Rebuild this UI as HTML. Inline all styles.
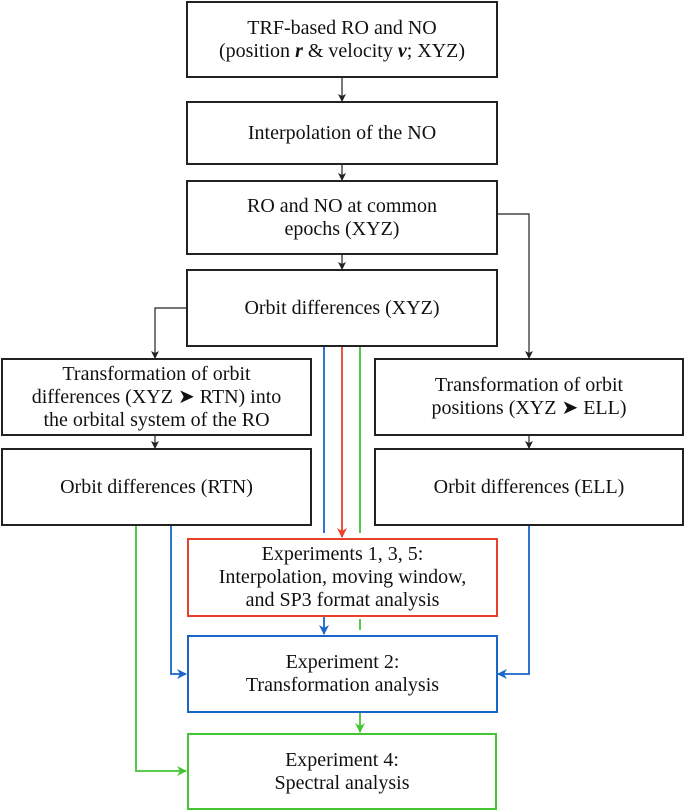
<!DOCTYPE html>
<html><head><meta charset="utf-8"><style>
body{margin:0;width:685px;height:810px;background:#fff;position:relative;overflow:hidden;font-family:"Liberation Serif",serif;}
.b{position:absolute;box-sizing:border-box;border:2px solid #222;display:flex;align-items:center;justify-content:center;text-align:center;font-size:20px;line-height:23px;color:#111;background:#fff;}
.b>div{display:block;}
svg{position:absolute;left:0;top:0;}
</style></head><body>
<svg width="685" height="810">
<defs>
<marker id="k" markerWidth="8" markerHeight="8" refX="7" refY="4" orient="auto" markerUnits="userSpaceOnUse"><path d="M0,0 L8,4 L0,8 L2,4z" fill="#222"/></marker>
<marker id="r" markerWidth="10" markerHeight="10" refX="9" refY="5" orient="auto" markerUnits="userSpaceOnUse"><path d="M0,0 L10,5 L0,10 L3,5z" fill="#e8402a"/></marker>
<marker id="bl" markerWidth="10" markerHeight="10" refX="9" refY="5" orient="auto" markerUnits="userSpaceOnUse"><path d="M0,0 L10,5 L0,10 L3,5z" fill="#1a66c8"/></marker>
<marker id="g" markerWidth="10" markerHeight="10" refX="9" refY="5" orient="auto" markerUnits="userSpaceOnUse"><path d="M0,0 L10,5 L0,10 L3,5z" fill="#44c534"/></marker>
</defs>
<g stroke="#222" stroke-width="1.2" fill="none">
<line x1="342" y1="77" x2="342" y2="101" marker-end="url(#k)"/>
<line x1="342" y1="164" x2="342" y2="180" marker-end="url(#k)"/>
<line x1="342" y1="254" x2="342" y2="269" marker-end="url(#k)"/>
<polyline points="187,308 155,308 155,358" marker-end="url(#k)"/>
<polyline points="497,214 529,214 529,358" marker-end="url(#k)"/>
<line x1="155" y1="435" x2="155" y2="448" marker-end="url(#k)"/>
<line x1="529" y1="435" x2="529" y2="448" marker-end="url(#k)"/>
</g>
<g stroke-width="1.8" fill="none">
<line x1="324" y1="346" x2="324" y2="533" stroke="#1a66c8"/>
<line x1="342" y1="346" x2="342" y2="537" stroke="#e8402a" marker-end="url(#r)"/>
<line x1="360" y1="346" x2="360" y2="533" stroke="#44c534"/>
<line x1="324" y1="616" x2="324" y2="634" stroke="#1a66c8" marker-end="url(#bl)"/>
<line x1="360" y1="619" x2="360" y2="630" stroke="#44c534"/>
<line x1="360" y1="712" x2="360" y2="732" stroke="#44c534" marker-end="url(#g)"/>
<polyline points="171,525 171,674 186,674" stroke="#1a66c8" marker-end="url(#bl)"/>
<polyline points="529,525 529,674 498,674" stroke="#1a66c8" marker-end="url(#bl)"/>
<polyline points="136,525 136,771 186,771" stroke="#44c534" marker-end="url(#g)"/>
</g>
</svg>
<div class="b" style="left:186px;top:1px;width:312px;height:77px"><div>TRF-based RO and NO<br>(position <b><i>r</i></b> &amp; velocity <b><i>v</i></b>; XYZ)</div></div>
<div class="b" style="left:186px;top:101px;width:312px;height:64px"><div>Interpolation of the NO</div></div>
<div class="b" style="left:186px;top:180px;width:312px;height:75px"><div>RO and NO at common<br>epochs (XYZ)</div></div>
<div class="b" style="left:186px;top:269px;width:312px;height:78px"><div>Orbit differences (XYZ)</div></div>
<div class="b" style="left:1px;top:358px;width:311px;height:78px"><div>Transformation of orbit<br>differences (XYZ ➤ RTN) into<br>the orbital system of the RO</div></div>
<div class="b" style="left:374px;top:358px;width:310px;height:78px"><div>Transformation of orbit<br>positions (XYZ ➤ ELL)</div></div>
<div class="b" style="left:1px;top:448px;width:311px;height:78px"><div>Orbit differences (RTN)</div></div>
<div class="b" style="left:374px;top:448px;width:310px;height:78px"><div>Orbit differences (ELL)</div></div>
<div class="b" style="left:187px;top:538px;width:311px;height:79px;border-color:#e8402a"><div>Experiments 1, 3, 5:<br>Interpolation, moving window,<br>and SP3 format analysis</div></div>
<div class="b" style="left:187px;top:635px;width:311px;height:78px;border-color:#1a66c8"><div>Experiment 2:<br>Transformation analysis</div></div>
<div class="b" style="left:187px;top:733px;width:310px;height:77px;border-color:#44c534"><div>Experiment 4:<br>Spectral analysis</div></div>
</body></html>
